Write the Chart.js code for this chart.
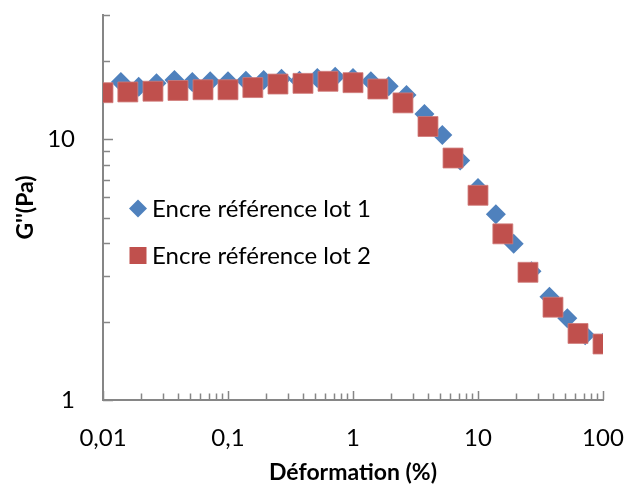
<!DOCTYPE html>
<html>
<head>
<meta charset="utf-8">
<script src="https://cdn.jsdelivr.net/npm/chart.js@4"></script>
<style>
  html, body { margin: 0; padding: 0; background: #fff; }
</style>
</head>
<body>
<canvas id="canvas" width="627" height="491"></canvas>
<script>
// strain (%) and G'' (Pa)
const strainLot1 = [0.01, 0.0139, 0.0193, 0.0268, 0.0373, 0.0518, 0.072, 0.1, 0.139, 0.193,
  0.268, 0.373, 0.518, 0.72, 1, 1.39, 1.93, 2.68, 3.73, 5.18, 7.2, 10, 13.9, 19.3, 26.8,
  37.3, 51.8, 72, 100];
const gLot1 = [15.0, 16.6, 15.9, 16.4, 16.9, 16.6, 16.7, 16.7, 16.8, 16.9,
  17.1, 16.8, 17.2, 17.4, 17.2, 16.7, 16.0, 14.8, 12.5, 10.4, 8.3, 6.5, 5.16, 3.98, 3.12,
  2.49, 2.06, 1.77, 1.66];

const strainLot2 = [0.01, 0.0158, 0.0251, 0.0398, 0.0631, 0.1, 0.158, 0.251, 0.398, 0.631,
  1, 1.58, 2.51, 3.98, 6.31, 10, 15.8, 25.1, 39.8, 63.1, 100];
const gLot2 = [15.1, 15.2, 15.3, 15.4, 15.5, 15.5, 15.8, 16.3, 16.4, 16.7,
  16.5, 15.6, 13.8, 11.2, 8.48, 6.1, 4.34, 3.09, 2.27, 1.8, 1.64];

const seriesNames = ['Encre référence lot 1', 'Encre référence lot 2'];
const xTickValues = [0.01, 0.1, 1, 10, 100];
const yTickValues = [1, 10];

const blue = '#4F81BD';
const red = '#C0504D';
const axisGrey = '#868686';
const fontFamily = 'Lato, "Open Sans", sans-serif';

function toPoints(xs, ys) {
  return xs.map((x, i) => ({ x: x, y: ys[i] }));
}

function frNumber(v) {
  return String(v).replace('.', ',');
}

// minor/major tick marks drawn inside the plot, like the Excel original
const innerTicks = {
  id: 'innerTicks',
  beforeDatasetsDraw(chart) {
    const ctx = chart.ctx;
    const xs = chart.scales.x, ys = chart.scales.y;
    const area = chart.chartArea;
    ctx.save();
    ctx.strokeStyle = axisGrey;
    ctx.lineWidth = 1.5;
    ctx.beginPath();
    for (let d = -2; d < 2; d++) {
      for (let m = 1; m <= 10; m++) {
        const v = m * Math.pow(10, d);
        const px = Math.round(xs.getPixelForValue(v)) + 0.5;
        const len = (m === 1 || m === 10) ? 9 : 6.5;
        ctx.moveTo(px, area.bottom);
        ctx.lineTo(px, area.bottom - len);
      }
    }
    const yMarks = [1, 2, 3, 4, 5, 6, 7, 8, 9, 10, 20, 30];
    yMarks.forEach(v => {
      const py = Math.round(ys.getPixelForValue(v)) + 0.5;
      const len = (v === 1 || v === 10) ? 10 : 7;
      ctx.moveTo(area.left, py);
      ctx.lineTo(area.left + len, py);
    });
    ctx.stroke();
    ctx.restore();
  }
};

// legend sitting inside the plot area
const innerLegend = {
  id: 'innerLegend',
  afterDraw(chart) {
    const ctx = chart.ctx;
    const area = chart.chartArea;
    const x0 = area.left + 35;
    const rows = [area.top + 193.5, area.top + 240.5];
    ctx.save();
    ctx.font = '24px ' + fontFamily;
    ctx.textBaseline = 'middle';
    // diamond
    ctx.fillStyle = blue;
    ctx.beginPath();
    ctx.moveTo(x0, rows[0] - 9);
    ctx.lineTo(x0 + 9, rows[0]);
    ctx.lineTo(x0, rows[0] + 9);
    ctx.lineTo(x0 - 9, rows[0]);
    ctx.closePath();
    ctx.fill();
    // square
    ctx.fillStyle = red;
    ctx.fillRect(x0 - 8.5, rows[1] - 8.5, 17, 17);
    ctx.fillStyle = '#000';
    ctx.fillText(seriesNames[0], x0 + 14, rows[0] + 1);
    ctx.fillText(seriesNames[1], x0 + 14, rows[1] + 1);
    ctx.restore();
  }
};

const ctx = document.getElementById('canvas').getContext('2d');
new Chart(ctx, {
  type: 'scatter',
  data: {
    datasets: [
      {
        label: seriesNames[0],
        data: toPoints(strainLot1, gLot1),
        pointStyle: 'rectRot',
        pointRadius: 10,
        pointHoverRadius: 10,
        backgroundColor: blue,
        borderColor: blue,
        borderWidth: 0,
        order: 1
      },
      {
        label: seriesNames[1],
        data: toPoints(strainLot2, gLot2),
        pointStyle: 'rect',
        pointRadius: 14.1,
        pointHoverRadius: 14.1,
        backgroundColor: red,
        borderColor: '#CF7A78',
        borderWidth: 0.8,
        order: 0
      }
    ]
  },
  options: {
    responsive: false,
    animation: false,
    devicePixelRatio: 1,
    layout: { padding: { left: 0, top: 15, right: 24, bottom: 0 } },
    plugins: {
      legend: { display: false },
      tooltip: { enabled: false }
    },
    scales: {
      x: {
        type: 'logarithmic',
        position: 'bottom',
        min: 0.01,
        max: 100,
        afterBuildTicks: s => { s.ticks = xTickValues.map(v => ({ value: v, major: true })); },
        afterFit: s => { s.height = 91; s.paddingLeft = 0; s.paddingRight = 0; },
        grid: { display: false, drawTicks: false },
        border: { display: true, color: axisGrey, width: 2 },
        ticks: {
          autoSkip: false,
          maxRotation: 0,
          padding: 24,
          color: '#000',
          font: { family: fontFamily, size: 24 },
          callback: v => frNumber(v)
        },
        title: {
          display: true,
          text: 'Déformation (%)',
          color: '#000',
          font: { family: fontFamily, size: 23, weight: 'bold' },
          padding: { top: 0, bottom: 5 }
        }
      },
      y: {
        type: 'logarithmic',
        position: 'left',
        min: 1,
        max: 30,
        afterBuildTicks: s => { s.ticks = yTickValues.map(v => ({ value: v, major: true })); },
        afterFit: s => { s.width = 103; s.paddingTop = 0; s.paddingBottom = 0; },
        grid: { display: false, drawTicks: false },
        border: { display: true, color: axisGrey, width: 2 },
        ticks: {
          autoSkip: false,
          padding: 28,
          color: '#000',
          font: { family: fontFamily, size: 24 },
          callback: v => frNumber(v)
        },
        title: {
          display: true,
          text: "G''(Pa)",
          color: '#000',
          font: { family: fontFamily, size: 23, weight: 'bold' },
          padding: { top: 12, bottom: 0 }
        }
      }
    }
  },
  plugins: [innerTicks, innerLegend]
});
</script>
</body>
</html>
